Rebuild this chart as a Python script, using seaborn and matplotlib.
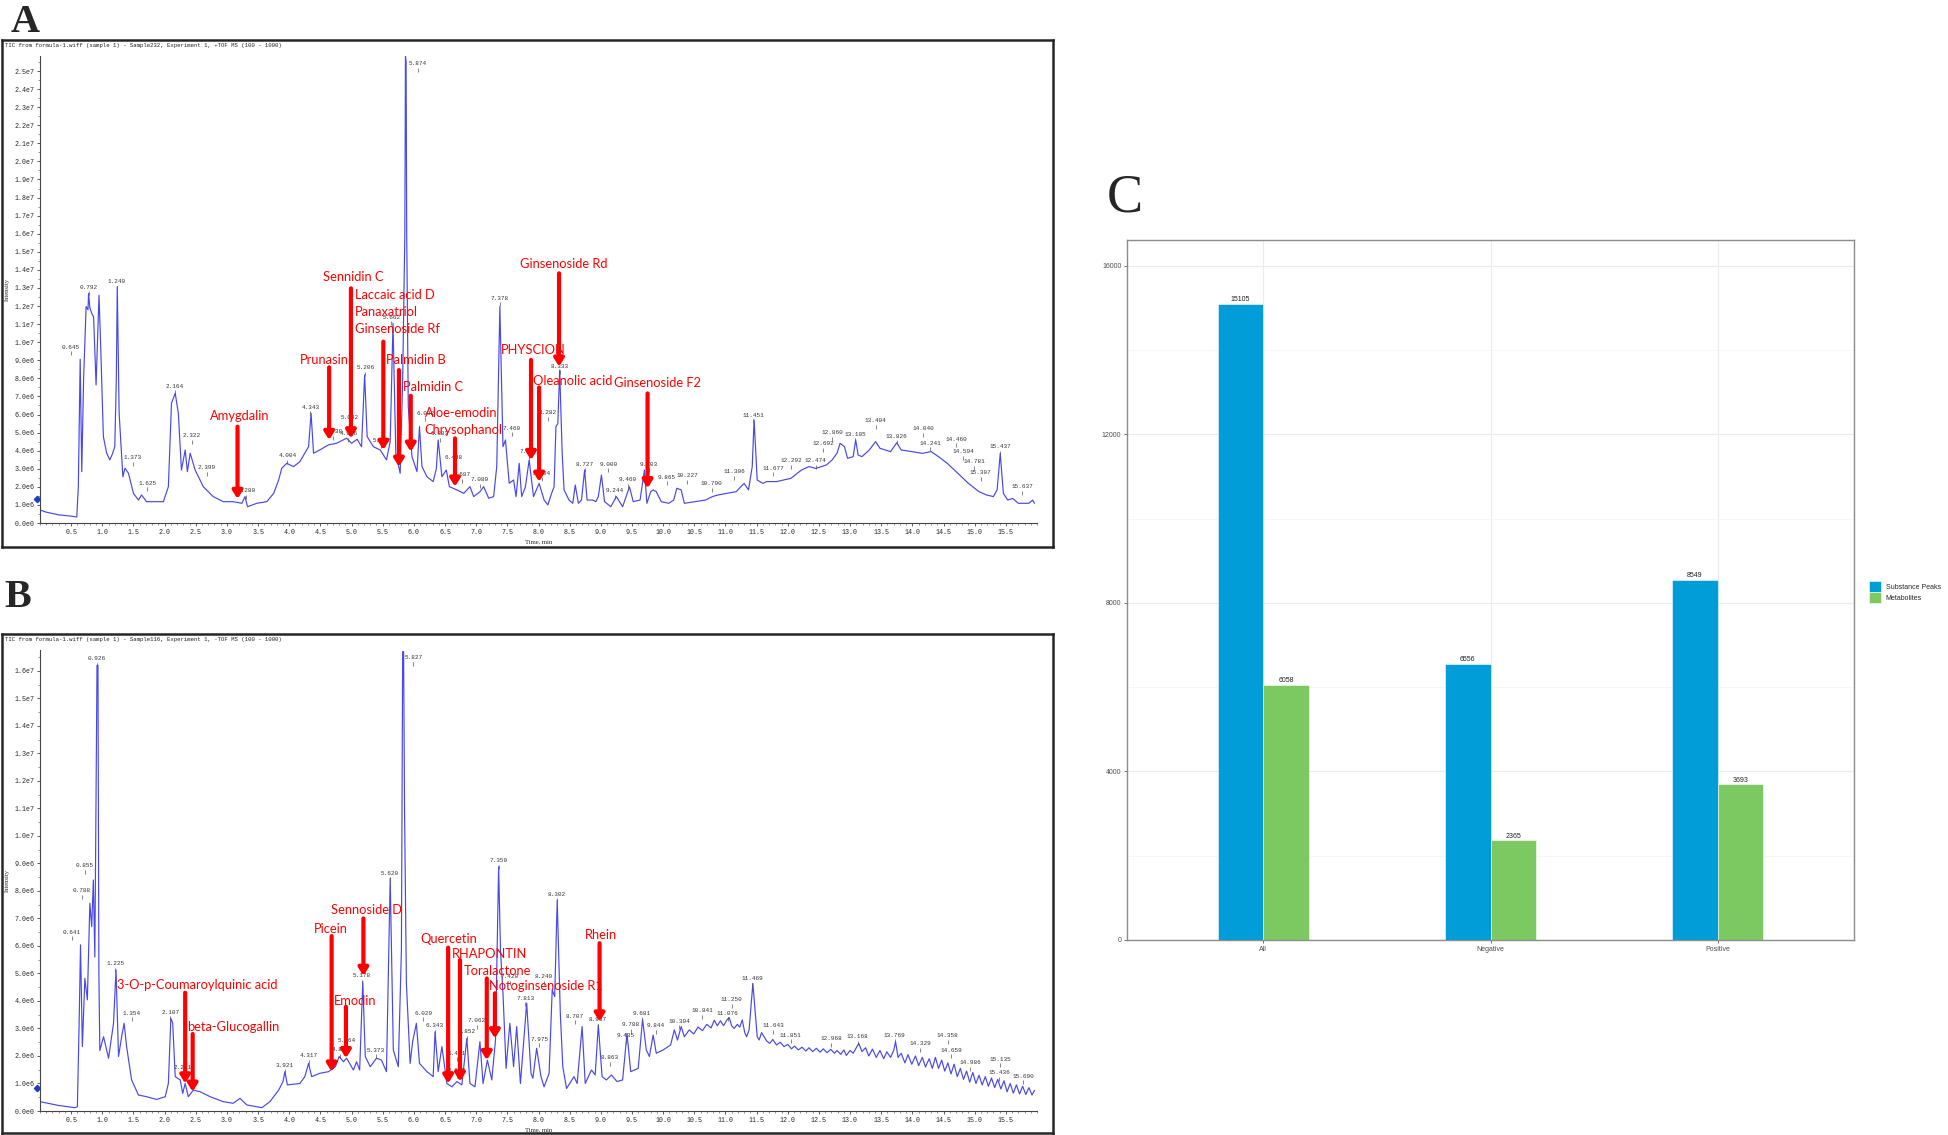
import numpy as np
import pandas as pd
import matplotlib
matplotlib.use("Agg")
import matplotlib.pyplot as plt
import seaborn as sns
from matplotlib.ticker import FuncFormatter, MultipleLocator

# ---------------- data ----------------
# panel A trace (time in min, intensity in 1e6 counts)
a_time = [0.00, 0.10, 0.30, 0.50, 0.59, 0.615, 0.645, 0.67, 0.70, 0.74, 0.77, 0.78, 0.80, 0.83, 0.86, 0.90,
          0.947, 0.974, 1.017, 1.07, 1.12, 1.16, 1.20, 1.225, 1.24, 1.27, 1.33, 1.364, 1.42, 1.50, 1.58, 1.63,
          1.71, 1.87, 1.98, 2.06, 2.11, 2.17, 2.22, 2.27, 2.33, 2.365, 2.41, 2.49, 2.62, 2.78, 2.94, 3.10,
          3.24, 3.29, 3.33, 3.48, 3.64, 3.75, 3.83, 3.88, 3.96, 4.07, 4.17, 4.25, 4.31, 4.35, 4.39, 4.49,
          4.63, 4.76, 4.92, 5.00, 5.09, 5.16, 5.21, 5.25, 5.35, 5.46, 5.56, 5.62, 5.665, 5.71, 5.78, 5.82,
          5.855, 5.865, 5.875, 5.885, 5.91, 5.97, 6.05, 6.09, 6.13, 6.21, 6.31, 6.36, 6.39, 6.45, 6.52, 6.57,
          6.69, 6.80, 6.90, 6.96, 7.06, 7.12, 7.20, 7.28, 7.33, 7.38, 7.43, 7.47, 7.53, 7.60, 7.64, 7.69,
          7.73, 7.79, 7.85, 7.92, 8.01, 8.09, 8.15, 8.21, 8.25, 8.28, 8.31, 8.34, 8.38, 8.41, 8.49, 8.55,
          8.59, 8.64, 8.69, 8.74, 8.78, 8.87, 8.92, 8.96, 9.01, 9.06, 9.16, 9.25, 9.35, 9.46, 9.52, 9.63,
          9.70, 9.74, 9.80, 9.84, 9.89, 9.97, 10.09, 10.17, 10.22, 10.29, 10.34, 10.51, 10.68, 10.79, 10.88, 11.03,
          11.17, 11.30, 11.37, 11.43, 11.46, 11.51, 11.60, 11.66, 11.82, 12.05, 12.22, 12.34, 12.45, 12.62, 12.71, 12.79,
          12.84, 12.91, 12.96, 13.05, 13.09, 13.13, 13.19, 13.31, 13.41, 13.48, 13.65, 13.75, 13.82, 13.99, 14.16, 14.30,
          14.42, 14.56, 14.73, 14.90, 15.07, 15.19, 15.30, 15.36, 15.41, 15.46, 15.53, 15.61, 15.70, 15.87, 15.93, 15.96]
a_int = [0.72, 0.60, 0.45, 0.38, 0.33, 2.0, 9.06, 2.84, 8.0, 11.97, 11.8, 12.7, 11.9, 11.6, 11.4, 7.64,
         12.6, 9.76, 4.78, 3.86, 3.49, 3.8, 4.22, 8.0, 13.08, 6.07, 2.56, 3.03, 2.75, 1.64, 1.27, 1.55,
         1.18, 1.18, 1.18, 2.01, 6.62, 7.18, 6.07, 2.93, 4.04, 2.84, 3.86, 2.93, 2.01, 1.46, 1.18, 1.18,
         1.09, 1.46, 0.9, 1.09, 1.18, 1.64, 2.38, 3.03, 3.3, 3.12, 3.39, 3.86, 4.22, 6.07, 3.86, 4.04,
         4.32, 4.41, 4.69, 4.41, 4.63, 4.22, 8.19, 4.78, 4.22, 4.04, 3.49, 4.5, 11.05, 3.86, 2.75, 7.9,
         16.0, 25.8, 25.5, 16.0, 6.44, 3.67, 2.84, 5.33, 3.12, 2.56, 2.29, 3.0, 4.59, 2.56, 2.93, 2.01,
         1.83, 1.64, 2.01, 1.46, 1.73, 2.01, 1.37, 1.46, 3.12, 11.97, 4.22, 4.59, 2.2, 2.38, 1.46, 3.3,
         1.46, 2.0, 3.48, 1.46, 2.19, 1.27, 1.0, 1.64, 2.0, 5.33, 5.5, 8.46, 3.85, 1.83, 1.27, 1.09,
         2.1, 1.09, 1.27, 2.93, 1.27, 1.27, 1.18, 1.46, 2.65, 1.18, 0.9, 1.46, 0.9, 2.0, 1.18, 1.27,
         2.93, 1.09, 1.73, 1.83, 1.73, 1.18, 1.09, 1.27, 1.92, 1.83, 1.09, 1.18, 1.27, 1.46, 1.55, 1.64,
         1.73, 2.19, 1.83, 3.12, 5.7, 2.38, 2.19, 2.29, 2.29, 2.47, 2.93, 3.12, 3.02, 3.21, 3.48, 3.85,
         4.41, 4.22, 3.58, 3.67, 4.59, 3.76, 3.67, 4.04, 4.5, 4.13, 3.95, 4.44, 4.04, 3.95, 3.85, 3.95,
         3.67, 3.3, 2.75, 2.19, 1.73, 1.55, 1.46, 1.83, 3.85, 1.64, 1.27, 1.36, 1.09, 1.09, 1.27, 1.09]

# panel B trace
b_time = [0.00, 0.30, 0.56, 0.60, 0.63, 0.65, 0.68, 0.72, 0.76, 0.80, 0.83, 0.856, 0.88, 0.915, 0.93, 0.945,
          0.96, 1.02, 1.10, 1.18, 1.22, 1.26, 1.31, 1.35, 1.39, 1.47, 1.58, 1.71, 1.87, 2.01, 2.06, 2.10,
          2.13, 2.17, 2.25, 2.29, 2.33, 2.38, 2.46, 2.57, 2.73, 2.94, 3.10, 3.21, 3.32, 3.56, 3.69, 3.83,
          3.90, 3.93, 3.97, 4.17, 4.25, 4.31, 4.36, 4.49, 4.63, 4.74, 4.80, 4.87, 4.92, 5.03, 5.08, 5.13,
          5.18, 5.22, 5.30, 5.40, 5.48, 5.56, 5.62, 5.67, 5.75, 5.80, 5.82, 5.835, 5.85, 5.88, 5.94, 5.98,
          6.04, 6.09, 6.21, 6.31, 6.34, 6.39, 6.45, 6.53, 6.61, 6.69, 6.77, 6.85, 6.90, 6.98, 7.06, 7.11,
          7.18, 7.25, 7.31, 7.36, 7.39, 7.43, 7.48, 7.54, 7.60, 7.65, 7.71, 7.81, 7.88, 7.91, 7.97, 8.04,
          8.09, 8.17, 8.22, 8.26, 8.30, 8.35, 8.39, 8.45, 8.57, 8.62, 8.70, 8.75, 8.85, 8.91, 8.96, 9.02,
          9.09, 9.17, 9.26, 9.35, 9.42, 9.48, 9.60, 9.67, 9.73, 9.78, 9.84, 9.89, 10.00, 10.12, 10.18, 10.23,
          10.29, 10.34, 10.42, 10.49, 10.56, 10.63, 10.70, 10.77, 10.82, 10.87, 10.92, 10.97, 11.02, 11.06, 11.10, 11.14,
          11.19, 11.23, 11.27, 11.31, 11.34, 11.38, 11.44, 11.48, 11.51, 11.54, 11.58, 11.62, 11.66, 11.71, 11.76, 11.82,
          11.88, 11.94, 12.00, 12.06, 12.11, 12.17, 12.23, 12.29, 12.34, 12.40, 12.46, 12.52, 12.57, 12.63, 12.69, 12.75,
          12.79, 12.85, 12.90, 12.94, 13.00, 13.05, 13.10, 13.14, 13.19, 13.25, 13.30, 13.36, 13.42, 13.48, 13.54, 13.59,
          13.65, 13.70, 13.73, 13.77, 13.82, 13.88, 13.93, 13.99, 14.05, 14.10, 14.16, 14.21, 14.27, 14.32, 14.37, 14.42,
          14.47, 14.52, 14.57, 14.62, 14.67, 14.72, 14.77, 14.82, 14.87, 14.92, 14.97, 15.02, 15.07, 15.12, 15.17, 15.22,
          15.27, 15.32, 15.37, 15.42, 15.47, 15.52, 15.57, 15.62, 15.67, 15.72, 15.77, 15.82, 15.87, 15.92, 15.96]
b_int = [0.34, 0.2, 0.12, 0.16, 3.43, 6.04, 2.34, 4.82, 4.04, 7.55, 6.7, 8.4, 5.6, 16.2, 16.2, 5.0,
         2.2, 2.7, 1.92, 3.19, 5.13, 1.98, 2.7, 3.19, 2.34, 1.13, 0.58, 0.52, 0.42, 0.52, 1.0, 3.37,
         3.19, 1.25, 1.13, 0.64, 1.0, 0.52, 0.76, 0.7, 0.52, 0.34, 0.28, 0.46, 0.22, 0.12, 0.34, 0.76,
         1.07, 1.43, 0.95, 1.0, 1.25, 1.73, 1.25, 1.37, 1.43, 1.61, 1.98, 1.79, 1.92, 1.49, 1.79, 1.49,
         4.7, 1.98, 1.61, 1.92, 1.85, 1.43, 8.46, 2.22, 1.61, 5.85, 16.7, 16.7, 11.0, 4.64, 1.73, 2.52,
         3.19, 1.73, 1.43, 1.25, 2.88, 1.43, 2.34, 1.0, 0.88, 1.07, 0.95, 2.64, 1.0, 0.88, 2.52, 1.0,
         1.85, 1.13, 2.58, 8.88, 5.85, 4.28, 1.55, 3.19, 1.61, 3.07, 1.0, 3.92, 1.37, 1.19, 2.28, 1.25,
         0.88, 1.37, 4.4, 4.16, 7.67, 3.55, 1.61, 0.82, 1.25, 1.0, 3.07, 1.0, 1.49, 1.31, 3.13, 1.25,
         1.13, 1.31, 1.07, 1.13, 2.82, 1.43, 1.55, 3.33, 2.22, 1.98, 2.76, 2.1, 2.22, 2.4, 2.95, 2.58,
         3.07, 2.7, 2.95, 2.80, 3.05, 2.92, 3.15, 3.02, 3.30, 3.10, 3.28, 3.10, 3.30, 3.40, 3.10, 3.0,
         3.15, 3.05, 3.31, 2.85, 2.7, 2.95, 4.64, 3.55, 2.7, 2.58, 2.85, 2.7, 2.55, 2.46, 2.6, 2.4,
         2.5, 2.34, 2.42, 2.26, 2.36, 2.22, 2.32, 2.18, 2.3, 2.16, 2.28, 2.14, 2.26, 2.12, 2.24, 2.1,
         2.2, 2.06, 2.22, 2.02, 2.2, 2.1, 2.3, 2.46, 2.16, 2.3, 2.0, 2.25, 1.95, 2.2, 1.9, 2.15,
         1.95, 2.2, 2.52, 1.95, 2.1, 1.75, 2.05, 1.7, 2.0, 1.65, 1.95, 1.6, 1.9, 1.55, 1.95, 1.55,
         1.85, 1.45, 1.75, 1.35, 1.7, 1.25, 1.55, 1.15, 1.45, 1.05, 1.4, 1.0, 1.3, 0.95, 1.25, 0.9,
         1.2, 0.85, 1.15, 0.8, 1.1, 0.7, 1.0, 0.65, 0.95, 0.62, 0.9, 0.6, 0.85, 0.58, 0.75]

# retention-time labels printed above peaks (label, time, intensity)
a_peak_lbl = ["0.645", "0.792", "1.240", "1.373", "1.625", "2.164", "2.322", "2.399", "3.280", "4.004",
              "4.343", "4.738", "4.916", "5.092", "5.206", "5.382", "5.662", "5.874", "6.092", "6.383",
              "6.498", "6.687", "7.080", "7.378", "7.460", "7.817", "8.004", "8.282", "8.333", "8.727",
              "9.000", "9.244", "9.460", "9.703", "9.865", "10.227", "10.790", "11.306", "11.451", "11.677",
              "12.292", "12.474", "12.692", "12.860", "13.105", "13.404", "13.826", "14.040", "14.241", "14.460",
              "14.594", "14.781", "15.307", "15.437", "15.637"]
a_peak_t = [0.50, 0.78, 1.23, 1.49, 1.72, 2.16, 2.44, 2.68, 3.31, 3.97,
            4.34, 4.71, 4.95, 4.97, 5.22, 5.48, 5.64, 6.07, 6.18, 6.42,
            6.63, 6.77, 7.06, 7.38, 7.57, 7.84, 8.05, 8.15, 8.34, 8.74,
            9.12, 9.23, 9.43, 9.77, 10.06, 10.39, 10.78, 11.14, 11.45, 11.77,
            12.06, 12.45, 12.57, 12.71, 13.08, 13.41, 13.75, 14.17, 14.29, 14.70,
            14.82, 14.99, 15.10, 15.41, 15.76]
a_peak_i = [9.72, 13.04, 13.35, 3.62, 2.2, 7.55, 4.82, 3.06, 1.77, 3.73,
            6.4, 5.04, 4.93, 5.83, 8.6, 4.59, 11.38, 25.39, 6.07, 4.93,
            3.63, 2.66, 2.38, 12.44, 5.24, 3.95, 2.75, 6.1, 8.68, 3.26,
            3.26, 1.79, 2.38, 3.26, 2.53, 2.6, 2.16, 2.84, 5.97, 3.02,
            3.45, 3.43, 4.37, 5.0, 4.92, 5.66, 4.81, 5.22, 4.41, 4.63,
            3.93, 3.39, 2.78, 4.22, 2.01]

b_peak_lbl = ["0.926", "5.827", "0.855", "0.788", "0.641", "1.225", "1.354", "2.107", "2.231", "3.921",
              "4.317", "4.849", "5.064", "5.178", "5.373", "5.620", "6.029", "6.343", "6.461", "6.603",
              "6.852", "7.062", "7.350", "7.420", "7.813", "7.975", "8.249", "8.302", "8.707", "8.967",
              "8.863", "9.435", "9.681", "9.788", "9.844", "10.304", "10.841", "11.076", "11.250", "11.469",
              "11.643", "11.851", "12.968", "13.168", "13.769", "14.329", "14.358", "14.659", "14.986", "15.135",
              "15.436", "15.690"]
b_peak_t = [0.91, 5.99, 0.72, 0.67, 0.51, 1.21, 1.47, 2.09, 2.29, 3.93,
            4.31, 4.82, 4.92, 5.16, 5.39, 5.62, 6.15, 6.34, 6.69, 6.69,
            6.85, 7.01, 7.36, 7.54, 7.79, 8.01, 8.09, 8.29, 8.58, 8.95,
            9.15, 9.40, 9.66, 9.48, 9.88, 10.26, 10.63, 11.04, 11.10, 11.43,
            11.77, 12.05, 12.70, 13.12, 13.72, 14.13, 14.57, 14.62, 14.93, 15.41,
            15.39, 15.78]
b_peak_i = [16.45, 16.48, 8.91, 8.01, 6.5, 5.35, 3.55, 3.59, 1.59, 1.67,
            2.0, 2.22, 2.56, 4.92, 2.21, 8.64, 3.55, 3.1, 2.1, 1.49,
            2.88, 3.28, 9.09, 4.88, 4.1, 2.61, 4.88, 7.88, 3.45, 3.31,
            1.94, 2.74, 3.55, 3.13, 3.1, 3.27, 3.65, 3.55, 4.04, 4.81,
            3.1, 2.76, 2.62, 2.7, 2.76, 2.44, 2.73, 2.21, 1.76, 1.88,
            1.39, 1.27]

# identified compounds (red text: left time, centre intensity)
a_names = ["Amygdalin", "Prunasin", "Sennidin C", "Laccaic acid D", "Panaxatriol", "Ginsenoside Rf",
           "Palmidin B", "Palmidin C", "Aloe-emodin", "Chrysophanol", "PHYSCION", "Oleanolic acid",
           "Ginsenoside Rd", "Ginsenoside F2"]
a_name_t = [2.73, 4.17, 4.54, 5.05, 5.05, 5.05, 5.55, 5.82, 6.17, 6.17, 7.40, 7.91, 7.70, 9.21]
a_name_i = [5.92, 9.04, 13.58, 12.6, 11.67, 10.73, 9.04, 7.52, 6.06, 5.14, 9.55, 7.88, 14.3, 7.74]
# red arrows (time, top, tip)
a_arrow_t = [3.17, 4.64, 4.99, 5.51, 5.76, 5.95, 6.66, 7.88, 8.01, 8.33, 9.75]
a_arrow_top = [5.33, 8.61, 12.98, 10.03, 8.46, 7.04, 4.68, 9.02, 7.5, 13.81, 7.17]
a_arrow_tip = [1.33, 4.59, 4.68, 4.04, 3.11, 3.94, 2.01, 3.48, 2.28, 8.65, 1.92]

b_names = ["3-O-p-Coumaroylquinic acid", "beta-Glucogallin", "Picein", "Sennoside D", "Emodin",
           "Quercetin", "RHAPONTIN", "Toralactone", "Notoginsenoside R1", "Rhein"]
b_name_t = [1.24, 2.36, 4.40, 4.67, 4.72, 6.11, 6.61, 6.80, 7.21, 8.75]
b_name_i = [4.59, 3.05, 6.63, 7.29, 4.0, 6.26, 5.69, 5.09, 4.55, 6.41]
b_arrow_t = [2.33, 2.45, 4.68, 5.19, 4.91, 6.55, 6.74, 7.17, 7.30, 8.98]
b_arrow_top = [4.3, 2.8, 6.36, 7.0, 3.79, 5.94, 5.49, 4.82, 4.28, 6.1]
b_arrow_tip = [1.0, 0.7, 1.43, 4.91, 1.92, 1.0, 1.07, 1.85, 2.64, 3.25]

# panel C
groups = ["All", "Negative", "Positive"]
substance_peaks = [15105, 6556, 8549]
metabolites = [6058, 2365, 3693]

# ---------------- figure ----------------
W, H = 1948, 1135
sns.set_style("white")
plt.rcParams["font.family"] = ["DejaVu Sans"]
fig = plt.figure(figsize=(W / 100, H / 100), dpi=100)


def box(l, t, r, b):
    return [l / W, 1 - b / H, (r - l) / W, (b - t) / H]


def sci(v, pos):
    if abs(v) < 1e-9:
        return "0.0e0"
    if v >= 9.99:
        return f"{v / 10:.1f}e7"
    return f"{v:.1f}e6"


MONO = "Liberation Mono"
RED_FONT = "Lato"
TRACE = "#4848e8"


def chrom(frame_px, ax_px, header, time, inten, top, p_lbl, p_t, p_i,
          names, n_t, n_i, ar_t, ar_top, ar_tip, marker_i):
    fr = fig.add_axes(box(*frame_px))
    fr.set_xticks([])
    fr.set_yticks([])
    for s in fr.spines.values():
        s.set_color("#262626")
        s.set_linewidth(1.8)
    fig.text((frame_px[0] + 3) / W, 1 - (frame_px[1] + 6) / H, header, fontsize=4.1,
             family=MONO, va="center", ha="left", color="#222")

    ax = fig.add_axes(box(*ax_px))
    ax.patch.set_alpha(0)
    sns.lineplot(x=time, y=inten, estimator=None, sort=False, color=TRACE, lw=0.85, ax=ax)
    ax.set_xlim(0, 16.0)
    ax.set_ylim(0, top)
    ax.set_xlabel("")
    ax.set_ylabel("")
    for s in ["top", "right"]:
        ax.spines[s].set_visible(False)
    for s in ["left", "bottom"]:
        ax.spines[s].set_color("#444")
        ax.spines[s].set_linewidth(0.8)
    ax.set_xticks(np.arange(0.5, 16.0, 0.5))
    ax.xaxis.set_major_formatter(FuncFormatter(lambda v, p: f"{v:.1f}"))
    ax.xaxis.set_minor_locator(MultipleLocator(0.1))
    ax.yaxis.set_major_locator(MultipleLocator(1.0))
    ax.yaxis.set_minor_locator(MultipleLocator(0.5))
    ax.yaxis.set_major_formatter(FuncFormatter(sci))
    ax.tick_params(which="major", length=2.5, width=0.6, labelsize=4.8, color="#444", pad=1.5,
                   bottom=True, left=True)
    ax.tick_params(which="minor", length=1.3, width=0.4, color="#444", bottom=True, left=True)
    for lab in ax.get_xticklabels() + ax.get_yticklabels():
        lab.set_family(MONO)

    # 1 px in data units, used for the little tick under each retention label
    px = top / (ax_px[3] - ax_px[1])
    for s, t, i in zip(p_lbl, p_t, p_i):
        ax.text(t, i, s, fontsize=4.3, family=MONO, ha="center", va="center", color="#333", clip_on=False)
        ax.vlines(t, i - 8 * px, i - 4 * px, color="#555", lw=0.5)

    for t, a, b in zip(ar_t, ar_top, ar_tip):
        ax.annotate("", xy=(t, b), xytext=(t, a),
                    arrowprops=dict(arrowstyle="-|>,head_length=0.45,head_width=0.28", color="#ff0000",
                                    lw=3.0, shrinkA=0, shrinkB=0, mutation_scale=10))
    for s, t, i in zip(names, n_t, n_i):
        ax.text(t, i, s, fontsize=9.3, family=RED_FONT, color="#ff0000", ha="left", va="center")

    ax.plot([-0.05], [marker_i], marker="D", ms=3.2, color="#1f3fbf", clip_on=False)
    mid_y = (ax_px[1] + ax_px[3]) / 2
    fig.text(7 / W, 1 - mid_y / H, "Intensity", rotation=90, fontsize=4.8, family="Liberation Serif",
             ha="center", va="center")
    fig.text((ax_px[0] + ax_px[2]) / 2 / W, 1 - (ax_px[3] + 19) / H, "Time, min", fontsize=4.8,
             family="Liberation Serif", ha="center", va="center")
    return ax


chrom((2, 40, 1053, 547), (40, 56, 1037, 523),
      "TIC from formula-1.wiff (sample 1) - Sample232, Experiment 1, +TOF MS (100 - 1000)",
      a_time, a_int, 25.83, a_peak_lbl, a_peak_t, a_peak_i,
      a_names, a_name_t, a_name_i, a_arrow_t, a_arrow_top, a_arrow_tip, 1.33)

chrom((2, 634, 1053, 1133), (40, 650, 1037, 1111),
      "TIC from formula-1.wiff (sample 1) - Sample116, Experiment 1, -TOF MS (100 - 1000)",
      b_time, b_int, 16.76, b_peak_lbl, b_peak_t, b_peak_i,
      b_names, b_name_t, b_name_i, b_arrow_t, b_arrow_top, b_arrow_tip, 0.85)

fig.text(11 / W, 1 - 32 / H, "A", fontsize=29, weight="bold", family="Liberation Serif", va="baseline")
fig.text(4 / W, 1 - 607 / H, "B", fontsize=29, weight="bold", family="Liberation Serif", va="baseline")
fig.text(1107 / W, 1 - 212 / H, "C", fontsize=39, family="Liberation Serif", va="baseline")

# ---------------- panel C ----------------
df = pd.DataFrame({
    "Group": groups * 2,
    "Type": ["Substance Peaks"] * 3 + ["Metabolites"] * 3,
    "Count": substance_peaks + metabolites,
})
axc = fig.add_axes(box(1127, 240, 1854, 940))
sns.barplot(data=df, x="Group", y="Count", hue="Type", palette=["#009dd9", "#7bc960"],
            width=0.4, saturation=1, edgecolor="white", linewidth=0.4, ax=axc)
for cont in axc.containers:
    axc.bar_label(cont, fmt="%d", fontsize=5, padding=0.5, color="#222", family="Liberation Sans")
axc.set_xlim(-0.6, 2.6)
axc.set_ylim(0, max(substance_peaks) * 1.1)
axc.set_yticks([0, 4000, 8000, 12000, 16000])
axc.yaxis.set_minor_locator(MultipleLocator(2000))
axc.set_axisbelow(True)
axc.grid(which="major", color="#ebebeb", lw=0.8)
axc.grid(which="minor", axis="y", color="#f4f4f4", lw=0.5)
axc.set_xlabel("")
axc.set_ylabel("")
for s in axc.spines.values():
    s.set_visible(True)
    s.set_color("#8c8c8c")
    s.set_linewidth(1.0)
axc.tick_params(which="major", length=2.5, width=0.6, color="#555", labelsize=5, labelcolor="#4d4d4d",
                pad=1.5, bottom=True, left=True)
axc.tick_params(which="minor", length=0, left=False)
for lab in axc.get_xticklabels() + axc.get_yticklabels():
    lab.set_family("Liberation Sans")
h, l = axc.get_legend_handles_labels()
axc.legend(h, l, loc="center left", bbox_to_anchor=(1869 / W, 1 - 592 / H), bbox_transform=fig.transFigure,
           frameon=False, prop={"family": "Liberation Sans", "size": 5}, handlelength=1.7, handleheight=2.0,
           handletextpad=0.7, labelspacing=0.0, borderaxespad=0, borderpad=0)

fig.savefig("out.png", dpi=100)
